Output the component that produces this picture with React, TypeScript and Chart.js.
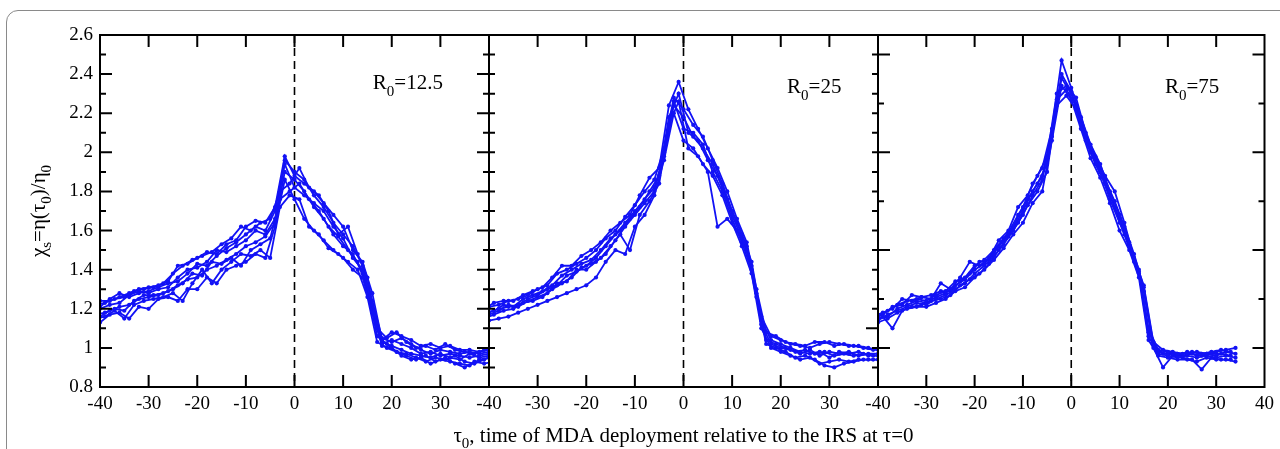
import React, { useEffect, useRef } from "react";
import { Chart, registerables } from "chart.js";

Chart.register(...registerables);

const FONT = '"Liberation Serif", "Times New Roman", serif';
const BLUE = "rgb(18,18,245)";

// x grids (tau0 values at which each run was sampled)
const X_EVEN = [-40, -38, -36, -34, -32, -30, -28, -26, -24, -22, -20, -18, -16, -14, -12, -10, -8, -6, -4, -2, 0, 2, 4, 6, 8, 10, 12, 14, 16, 18, 20, 22, 24, 26, 28, 30, 32, 34, 36, 38, 40];
const X_ODD = [-41, -39, -37, -35, -33, -31, -29, -27, -25, -23, -21, -19, -17, -15, -13, -11, -9, -7, -5, -3, -1, 1, 3, 5, 7, 9, 11, 13, 15, 17, 19, 21, 23, 25, 27, 29, 31, 33, 35, 37, 39, 41];
const X_EVEN_P3 = [-40, -38, -36, -34, -32, -30, -28, -26, -24, -22, -20, -18, -16, -14, -12, -10, -8, -6, -4, -2, 0, 2, 4, 6, 8, 10, 12, 14, 16, 18, 20, 22, 24, 26, 28, 30, 32, 34];
const X_ODD_P3 = [-41, -39, -37, -35, -33, -31, -29, -27, -25, -23, -21, -19, -17, -15, -13, -11, -9, -7, -5, -3, -1, 1, 3, 5, 7, 9, 11, 13, 15, 17, 19, 21, 23, 25, 27, 29, 31, 33];

// R0 = 12.5
const R12_A = [1.24, 1.24, 1.26, 1.28, 1.30, 1.31, 1.32, 1.34, 1.42, 1.43, 1.46, 1.49, 1.48, 1.53, 1.55, 1.62, 1.65, 1.64, 1.72, 1.98, 1.88, 1.84, 1.80, 1.74, 1.68, 1.62, 1.50, 1.44, 1.28, 1.04, 1.08, 1.06, 1.04, 1.01, 1.02, 1.00, 1.01, 0.99, 0.99, 0.98, 0.99];
const R12_B = [1.20, 1.22, 1.23, 1.27, 1.29, 1.28, 1.30, 1.31, 1.36, 1.40, 1.41, 1.44, 1.50, 1.49, 1.52, 1.55, 1.60, 1.58, 1.66, 1.94, 1.82, 1.78, 1.74, 1.70, 1.62, 1.56, 1.46, 1.40, 1.22, 1.02, 1.04, 1.02, 1.00, 0.97, 0.98, 0.96, 0.97, 0.96, 0.95, 0.96, 0.97];
const R12_C = [1.13, 1.17, 1.18, 1.15, 1.21, 1.20, 1.25, 1.26, 1.24, 1.30, 1.30, 1.36, 1.33, 1.40, 1.42, 1.44, 1.48, 1.46, 1.62, 1.86, 1.76, 1.66, 1.60, 1.55, 1.50, 1.46, 1.40, 1.36, 1.18, 1.01, 1.00, 0.96, 0.94, 0.95, 0.92, 0.94, 0.93, 0.92, 0.91, 0.94, 0.95];
const R12_D = [1.16, 1.19, 1.21, 1.22, 1.25, 1.26, 1.27, 1.29, 1.32, 1.35, 1.36, 1.40, 1.42, 1.45, 1.48, 1.52, 1.54, 1.57, 1.64, 1.90, 1.86, 1.80, 1.72, 1.66, 1.58, 1.52, 1.48, 1.38, 1.20, 1.03, 1.01, 0.99, 0.97, 0.96, 0.95, 0.97, 0.95, 0.94, 0.97, 0.95, 0.96];
const R12_H = [1.21, 1.25, 1.28, 1.26, 1.28, 1.29, 1.31, 1.33, 1.34, 1.38, 1.43, 1.42, 1.47, 1.51, 1.54, 1.58, 1.62, 1.60, 1.70, 1.96, 1.90, 1.86, 1.78, 1.72, 1.64, 1.58, 1.52, 1.42, 1.24, 1.05, 1.03, 1.05, 1.02, 0.99, 0.97, 0.99, 0.98, 0.97, 0.98, 0.97, 0.98];
const R12_E = [1.22, 1.23, 1.25, 1.26, 1.29, 1.30, 1.31, 1.33, 1.38, 1.42, 1.45, 1.47, 1.49, 1.53, 1.56, 1.62, 1.60, 1.64, 1.66, 1.80, 1.84, 1.92, 1.82, 1.78, 1.70, 1.58, 1.62, 1.48, 1.36, 1.10, 1.05, 1.08, 1.03, 1.00, 1.01, 0.99, 1.02, 0.99, 0.98, 0.97, 0.99, 0.99];
const R12_F = [1.17, 1.18, 1.20, 1.19, 1.24, 1.27, 1.27, 1.28, 1.30, 1.33, 1.38, 1.37, 1.44, 1.43, 1.46, 1.42, 1.50, 1.53, 1.56, 1.76, 1.80, 1.84, 1.76, 1.70, 1.62, 1.57, 1.50, 1.44, 1.30, 1.06, 1.02, 0.98, 0.97, 0.95, 0.93, 0.95, 0.94, 0.96, 0.93, 0.92, 0.94, 0.96];
const R12_G = [1.15, 1.16, 1.19, 1.15, 1.22, 1.24, 1.25, 1.26, 1.28, 1.24, 1.33, 1.40, 1.33, 1.40, 1.44, 1.48, 1.47, 1.50, 1.46, 1.72, 1.78, 1.76, 1.62, 1.58, 1.51, 1.48, 1.44, 1.40, 1.26, 1.03, 1.00, 0.98, 0.96, 0.94, 0.96, 0.93, 0.95, 0.92, 0.90, 0.93, 0.92, 0.93];

// R0 = 25
const R25_A = [1.21, 1.22, 1.24, 1.25, 1.27, 1.30, 1.32, 1.38, 1.40, 1.43, 1.46, 1.50, 1.56, 1.60, 1.67, 1.73, 1.80, 1.86, 2.02, 2.28, 2.22, 2.14, 2.08, 1.96, 1.84, 1.70, 1.58, 1.44, 1.16, 1.06, 1.04, 1.02, 1.01, 1.00, 1.02, 1.03, 1.02, 1.01, 1.01, 1.00, 0.99];
const R25_B = [1.18, 1.20, 1.21, 1.22, 1.25, 1.27, 1.30, 1.32, 1.37, 1.39, 1.42, 1.46, 1.52, 1.58, 1.64, 1.70, 1.76, 1.82, 1.98, 2.24, 2.18, 2.08, 2.02, 1.94, 1.82, 1.68, 1.56, 1.42, 1.12, 1.02, 1.00, 0.99, 0.97, 0.99, 0.96, 0.98, 0.97, 0.98, 0.96, 0.97, 0.97];
const R25_C = [1.14, 1.15, 1.16, 1.18, 1.20, 1.22, 1.24, 1.26, 1.28, 1.30, 1.32, 1.36, 1.44, 1.50, 1.48, 1.62, 1.68, 1.78, 1.96, 2.20, 2.06, 2.02, 1.94, 1.88, 1.78, 1.64, 1.52, 1.38, 1.10, 1.00, 0.98, 0.96, 0.94, 0.95, 0.92, 0.93, 0.94, 0.93, 0.94, 0.94, 0.94];
const R25_D = [1.17, 1.19, 1.22, 1.21, 1.24, 1.26, 1.28, 1.33, 1.34, 1.40, 1.40, 1.44, 1.48, 1.55, 1.62, 1.68, 1.74, 1.80, 2.00, 2.26, 2.12, 2.10, 2.04, 1.90, 1.80, 1.66, 1.54, 1.40, 1.14, 1.04, 1.02, 1.00, 0.98, 0.97, 0.98, 0.95, 0.98, 0.97, 0.98, 0.96, 0.96];
const R25_E = [1.20, 1.23, 1.24, 1.24, 1.27, 1.29, 1.31, 1.36, 1.42, 1.42, 1.47, 1.50, 1.54, 1.60, 1.64, 1.68, 1.78, 1.87, 1.92, 2.24, 2.36, 2.22, 2.12, 2.02, 1.92, 1.80, 1.66, 1.54, 1.30, 1.08, 1.06, 1.03, 1.02, 1.01, 1.03, 1.03, 1.01, 1.02, 1.01, 1.00, 0.99, 0.99];
const R25_F = [1.15, 1.17, 1.19, 1.20, 1.23, 1.24, 1.26, 1.30, 1.33, 1.36, 1.41, 1.43, 1.46, 1.52, 1.58, 1.50, 1.68, 1.75, 1.84, 2.14, 2.26, 2.02, 1.98, 1.90, 1.62, 1.66, 1.60, 1.50, 1.26, 1.02, 1.00, 0.98, 0.95, 0.96, 0.94, 0.91, 0.90, 0.92, 0.93, 0.94, 0.94, 0.94];
const R25_G = [1.18, 1.19, 1.22, 1.21, 1.25, 1.27, 1.29, 1.32, 1.37, 1.40, 1.43, 1.45, 1.50, 1.56, 1.60, 1.66, 1.72, 1.80, 1.88, 2.18, 2.30, 2.10, 2.06, 1.96, 1.88, 1.76, 1.64, 1.52, 1.28, 1.04, 1.02, 1.00, 0.98, 0.99, 0.97, 0.98, 0.96, 0.97, 0.96, 0.97, 0.96, 0.96];

// R0 = 75
const R75_A = [1.16, 1.19, 1.22, 1.24, 1.25, 1.24, 1.27, 1.29, 1.34, 1.36, 1.42, 1.45, 1.50, 1.56, 1.62, 1.72, 1.84, 1.92, 2.12, 2.47, 2.33, 2.18, 2.04, 1.94, 1.80, 1.68, 1.54, 1.40, 1.10, 0.99, 0.98, 0.97, 0.97, 0.98, 0.97, 0.98, 0.99, 1.00];
const R75_B = [1.14, 1.17, 1.19, 1.21, 1.23, 1.22, 1.25, 1.27, 1.30, 1.33, 1.38, 1.42, 1.47, 1.53, 1.60, 1.68, 1.78, 1.86, 2.08, 2.38, 2.30, 2.14, 2.00, 1.90, 1.76, 1.64, 1.52, 1.38, 1.06, 0.97, 0.96, 0.95, 0.96, 0.95, 0.96, 0.95, 0.96, 0.95];
const R75_C = [1.13, 1.15, 1.18, 1.20, 1.21, 1.21, 1.23, 1.25, 1.29, 1.31, 1.36, 1.40, 1.45, 1.51, 1.58, 1.64, 1.74, 1.80, 2.06, 2.34, 2.27, 2.12, 1.97, 1.87, 1.74, 1.60, 1.50, 1.36, 1.04, 0.96, 0.95, 0.94, 0.94, 0.93, 0.95, 0.94, 0.94, 0.93];
const R75_D = [1.15, 1.16, 1.20, 1.22, 1.24, 1.23, 1.26, 1.28, 1.32, 1.35, 1.40, 1.43, 1.49, 1.55, 1.61, 1.70, 1.80, 1.88, 2.10, 2.40, 2.31, 2.16, 2.02, 1.92, 1.78, 1.66, 1.53, 1.39, 1.08, 0.98, 0.97, 0.96, 0.98, 0.96, 0.97, 0.96, 0.98, 0.97];
const R75_E = [1.16, 1.18, 1.20, 1.25, 1.24, 1.26, 1.25, 1.33, 1.30, 1.36, 1.44, 1.42, 1.46, 1.55, 1.60, 1.72, 1.78, 1.88, 1.98, 2.30, 2.34, 2.28, 2.10, 1.98, 1.88, 1.80, 1.64, 1.46, 1.32, 1.03, 0.99, 0.98, 0.97, 0.98, 0.97, 0.98, 0.99, 0.98];
const R75_F = [1.14, 1.16, 1.10, 1.19, 1.21, 1.22, 1.24, 1.25, 1.27, 1.32, 1.35, 1.38, 1.43, 1.50, 1.57, 1.64, 1.73, 1.80, 1.90, 2.24, 2.29, 2.22, 2.06, 1.94, 1.84, 1.72, 1.58, 1.44, 1.29, 1.00, 0.90, 0.96, 0.95, 0.94, 0.89, 0.95, 0.94, 0.94];
const R75_G = [1.15, 1.17, 1.21, 1.22, 1.27, 1.26, 1.27, 1.29, 1.29, 1.34, 1.38, 1.44, 1.45, 1.52, 1.59, 1.68, 1.76, 1.84, 1.94, 2.27, 2.32, 2.24, 2.08, 1.96, 1.86, 1.75, 1.62, 1.48, 1.31, 1.02, 0.97, 0.97, 0.96, 0.97, 0.96, 0.97, 0.97, 0.96];

// axis ranges and tick marks
const X_MIN = -40;
const X_MAX = 40;
const Y_MIN = 0.8;
const Y_MAX = 2.6;
const X_INNER_TICKS = [-30, -20, -10, 0, 10, 20, 30];
const P1_Y_LONG = [1.0, 1.2, 1.4, 1.6, 1.8, 2.0, 2.2, 2.4];
const P1_Y_SHORT = [0.9, 1.1, 1.3, 1.5, 1.7, 1.9, 2.1, 2.3, 2.5];
const P2_Y_LONG = [1.1];
const P2_Y_SHORT = [0.9, 1.0, 1.2, 1.3, 1.4, 1.5, 1.6, 1.7, 1.8, 1.9, 2.0, 2.1, 2.2, 2.3, 2.4, 2.5];
const P3_Y_LONG = [1.0, 1.5, 2.0, 2.5];
const P3_Y_SHORT = [1.25, 1.75, 2.25];
const PANEL_R0 = ["12.5", "25", "75"];

type Curve = { xs: number[]; ys: number[] };
type PanelDef = {
  curves: Curve[];
  r0: string;
  labelAt: [number, number];
  yLong: number[];
  yShort: number[];
  showYLabels: boolean;
  showLastX: boolean;
  yTitle: boolean;
  xTitle: boolean;
};

const PANELS: PanelDef[] = [
  {
    curves: [
      { xs: X_EVEN, ys: R12_A }, { xs: X_EVEN, ys: R12_B }, { xs: X_EVEN, ys: R12_C }, { xs: X_EVEN, ys: R12_D },
      { xs: X_EVEN, ys: R12_H }, { xs: X_ODD, ys: R12_E }, { xs: X_ODD, ys: R12_F }, { xs: X_ODD, ys: R12_G },
    ],
    r0: PANEL_R0[0], labelAt: [16.1, 2.324], yLong: P1_Y_LONG, yShort: P1_Y_SHORT,
    showYLabels: true, showLastX: false, yTitle: true, xTitle: false,
  },
  {
    curves: [
      { xs: X_EVEN, ys: R25_A }, { xs: X_EVEN, ys: R25_B }, { xs: X_EVEN, ys: R25_C }, { xs: X_EVEN, ys: R25_D },
      { xs: X_ODD, ys: R25_E }, { xs: X_ODD, ys: R25_F }, { xs: X_ODD, ys: R25_G },
    ],
    r0: PANEL_R0[1], labelAt: [21.3, 2.303], yLong: P2_Y_LONG, yShort: P2_Y_SHORT,
    showYLabels: false, showLastX: false, yTitle: false, xTitle: true,
  },
  {
    curves: [
      { xs: X_EVEN_P3, ys: R75_A }, { xs: X_EVEN_P3, ys: R75_B }, { xs: X_EVEN_P3, ys: R75_C }, { xs: X_EVEN_P3, ys: R75_D },
      { xs: X_ODD_P3, ys: R75_E }, { xs: X_ODD_P3, ys: R75_F }, { xs: X_ODD_P3, ys: R75_G },
    ],
    r0: PANEL_R0[2], labelAt: [19.4, 2.303], yLong: P3_Y_LONG, yShort: P3_Y_SHORT,
    showYLabels: false, showLastX: true, yTitle: false, xTitle: false,
  },
];

// page layout of the three plot boxes
const PAGE_W = 1280;
const PAGE_H = 449;
const PLOT_LEFT0 = 100;
const PLOT_W = 389;
const PLOT_TOP = 35;
const PLOT_BOTTOM = 387;

type Seg = { t: string; sub?: boolean };

function drawRich(
  ctx: CanvasRenderingContext2D,
  segs: Seg[],
  x: number,
  y: number,
  size: number,
  subSize: number,
  drop: number,
  align: "left" | "center"
) {
  const main = `${size}px ${FONT}`;
  const sub = `${subSize}px ${FONT}`;
  let w = 0;
  for (const s of segs) {
    ctx.font = s.sub ? sub : main;
    w += ctx.measureText(s.t).width;
  }
  let cx = align === "center" ? x - w / 2 : x;
  ctx.textAlign = "left";
  ctx.textBaseline = "alphabetic";
  ctx.fillStyle = "#000";
  for (const s of segs) {
    ctx.font = s.sub ? sub : main;
    ctx.fillText(s.t, cx, y + (s.sub ? drop : 0));
    cx += ctx.measureText(s.t).width;
  }
}

const framePlugin = {
  id: "frameTicks",
  beforeDatasetsDraw(chart: any) {
    const { ctx, chartArea: a } = chart;
    const x0 = chart.scales.x.getPixelForValue(0);
    ctx.save();
    ctx.strokeStyle = "#000";
    ctx.lineWidth = 1.6;
    ctx.setLineDash([8, 5]);
    ctx.beginPath();
    ctx.moveTo(x0, a.top);
    ctx.lineTo(x0, a.bottom);
    ctx.stroke();
    ctx.restore();
  },
  afterDatasetsDraw(chart: any, _args: any, opts: any) {
    const { ctx, chartArea: a } = chart;
    const xs = chart.scales.x;
    const ys = chart.scales.y;
    const p: PanelDef = PANELS[opts.panel];
    ctx.save();
    ctx.setLineDash([]);
    ctx.strokeStyle = "#000";
    ctx.lineWidth = 2;
    ctx.beginPath();
    for (const v of X_INNER_TICKS) {
      const px = xs.getPixelForValue(v);
      ctx.moveTo(px, a.top);
      ctx.lineTo(px, a.top + 12);
      ctx.moveTo(px, a.bottom);
      ctx.lineTo(px, a.bottom - 12);
    }
    const marks: [number, number][] = [
      ...p.yLong.map((v) => [v, 12] as [number, number]),
      ...p.yShort.map((v) => [v, 6] as [number, number]),
    ];
    for (const [v, len] of marks) {
      const py = ys.getPixelForValue(v);
      ctx.moveTo(a.left, py);
      ctx.lineTo(a.left + len, py);
      ctx.moveTo(a.right, py);
      ctx.lineTo(a.right - len, py);
    }
    ctx.stroke();
    ctx.strokeRect(a.left, a.top, a.right - a.left, a.bottom - a.top);

    // panel label R0=...
    const lx = xs.getPixelForValue(p.labelAt[0]);
    const ly = ys.getPixelForValue(p.labelAt[1]);
    drawRich(ctx, [{ t: "R" }, { t: "0", sub: true }, { t: "=" + p.r0 }], lx, ly, 21, 15, 7, "left");

    if (p.yTitle) {
      ctx.save();
      ctx.translate(45, (a.top + a.bottom) / 2);
      ctx.rotate(-Math.PI / 2);
      drawRich(
        ctx,
        [{ t: "χ" }, { t: "s", sub: true }, { t: "=η(τ" }, { t: "0", sub: true }, { t: ")/η" }, { t: "0", sub: true }],
        0, 0, 21, 15, 6, "center"
      );
      ctx.restore();
    }
    if (p.xTitle) {
      drawRich(
        ctx,
        [{ t: "τ" }, { t: "0", sub: true }, { t: ", time of MDA deployment relative to the IRS at τ=0" }],
        (a.left + a.right) / 2, 442, 21, 15, 6, "center"
      );
    }
    ctx.restore();
  },
};

function Panel({ index }: { index: number }) {
  const ref = useRef<HTMLCanvasElement>(null);
  useEffect(() => {
    const p = PANELS[index];
    const datasets = p.curves.map((c) => ({
      data: c.xs.map((x, i) => ({ x, y: c.ys[i] })),
      borderColor: BLUE,
      backgroundColor: BLUE,
      borderWidth: 1.8,
      pointRadius: 2.1,
      pointHoverRadius: 2.1,
      pointBorderWidth: 0,
      pointBackgroundColor: BLUE,
      tension: 0,
      fill: false,
      clip: 1,
    }));
    const tickFont = { family: FONT, size: 19 };
    const plotLeft = PLOT_LEFT0 + PLOT_W * index;
    const chart = new Chart(ref.current as HTMLCanvasElement, {
      type: "line",
      data: { datasets },
      plugins: [framePlugin],
      options: {
        responsive: false,
        animation: false,
        devicePixelRatio: 1,
        events: [],
        layout: {
          padding: {
            top: PLOT_TOP,
            right: PAGE_W - plotLeft - PLOT_W,
            left: plotLeft - PLOT_LEFT0,
            bottom: 0,
          },
        },
        plugins: {
          legend: { display: false },
          tooltip: { enabled: false },
          frameTicks: { panel: index },
        } as any,
        scales: {
          x: {
            type: "linear",
            min: X_MIN,
            max: X_MAX,
            grid: { display: false, drawTicks: false },
            border: { display: false },
            ticks: {
              stepSize: 10,
              autoSkip: false,
              maxRotation: 0,
              padding: 6,
              color: "#000",
              font: tickFont,
              callback: (v: any) => (Number(v) === X_MAX && !p.showLastX ? "" : String(v)),
            },
            afterFit: (s: any) => {
              s.height = PAGE_H - PLOT_BOTTOM;
            },
          },
          y: {
            type: "linear",
            min: Y_MIN,
            max: Y_MAX,
            grid: { display: false, drawTicks: false },
            border: { display: false },
            ticks: {
              display: p.showYLabels,
              stepSize: 0.2,
              padding: 7,
              color: "#000",
              font: tickFont,
              callback: (v: any) => String(Math.round(Number(v) * 10) / 10),
            },
            afterFit: (s: any) => {
              s.width = PLOT_LEFT0;
            },
          },
        },
      } as any,
    });
    return () => chart.destroy();
  }, [index]);
  return (
    <canvas
      ref={ref}
      width={PAGE_W}
      height={PAGE_H}
      style={{ position: "absolute", left: 0, top: 0, width: PAGE_W, height: PAGE_H }}
    />
  );
}

export default function App() {
  return (
    <div
      style={{
        position: "absolute",
        left: 0,
        top: 0,
        width: PAGE_W,
        height: PAGE_H,
        overflow: "hidden",
        background: "#fff",
      }}
    >
      <div
        style={{
          position: "absolute",
          left: 6,
          top: 10,
          width: 1320,
          height: 600,
          border: "1px solid #8a8a8a",
          borderRadius: 12,
          boxSizing: "border-box",
        }}
      />
      <Panel index={0} />
      <Panel index={1} />
      <Panel index={2} />
    </div>
  );
}
